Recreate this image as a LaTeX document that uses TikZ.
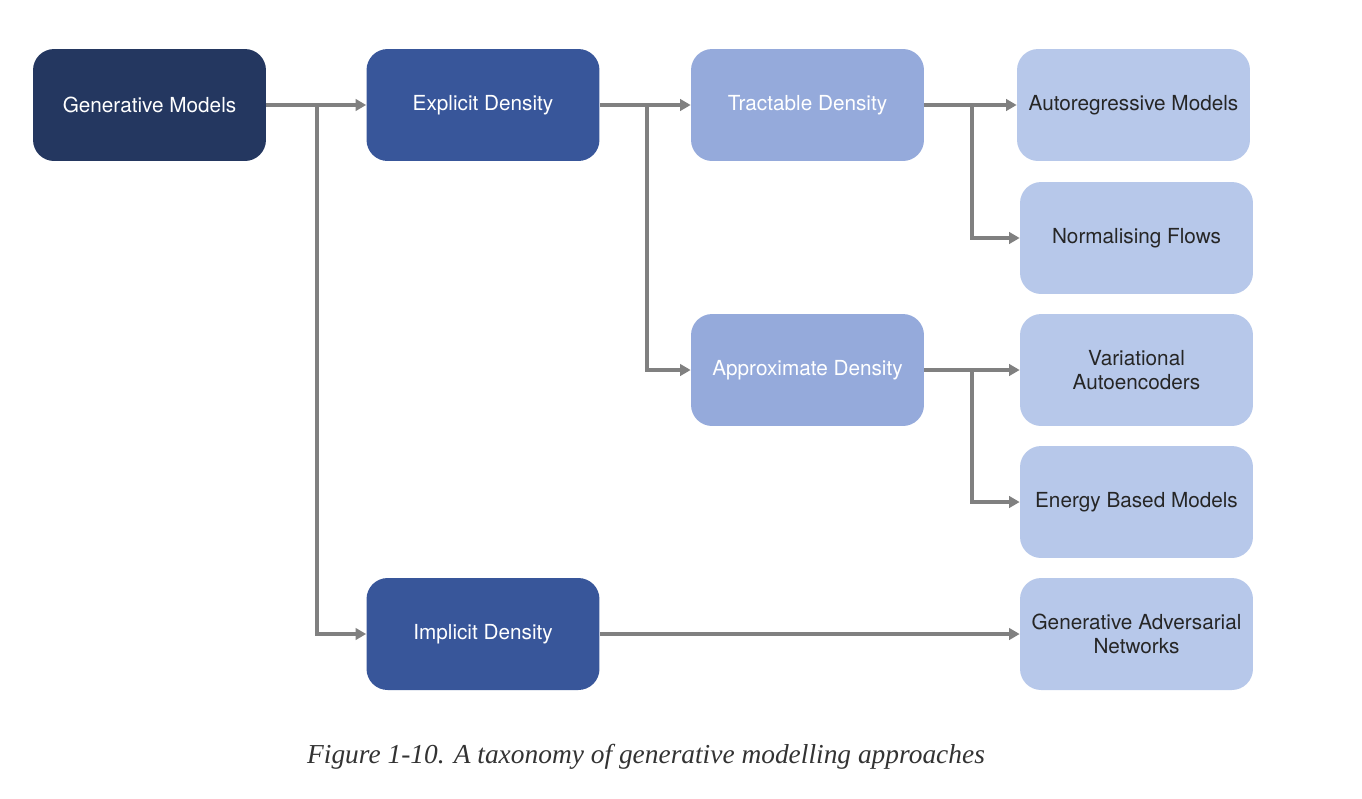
\documentclass[tikz,border=0pt]{standalone}
\usepackage{fontspec}
\setmainfont{Liberation Serif}
\setsansfont{TeX Gyre Heros}
\usepackage{xcolor}
\usetikzlibrary{arrows.meta, calc}

\definecolor{navy}{HTML}{243760}
\definecolor{royal}{HTML}{38569A}
\definecolor{periwinkle}{HTML}{95AADB}
\definecolor{paleblue}{HTML}{B7C8EA}
\definecolor{linegray}{HTML}{808080}

\tikzset{
    box/.style={rounded corners=12pt, minimum width=4.66cm, minimum height=2.24cm,
        align=center, font=\sffamily\fontsize{11.8}{14}\selectfont, inner sep=0pt},
    rootbox/.style={box, fill=navy, text=white},
    midbox/.style={box, fill=royal, text=white},
    subbox/.style={box, fill=periwinkle, text=white},
    leafbox/.style={box, fill=paleblue, text=black!85},
    conn/.style={draw=linegray, line width=1.8pt, -{Triangle[length=6pt,width=6.5pt]}}
}

\begin{document}
\begin{tikzpicture}[x=0.02cm, y=-0.02cm]
    \useasboundingbox (0,0) rectangle (1362,798);

    \node[rootbox] (gm) at (149.5,105) {Generative Models};
    \node[midbox] (ed) at (483,105) {Explicit Density};
    \node[midbox] (id) at (483,634) {Implicit Density};
    \node[subbox] (td) at (807.5,105) {Tractable Density};
    \node[subbox] (ad) at (807.5,370) {Approximate Density};
    \node[leafbox] (ar) at (1133.5,105) {Autoregressive Models};
    \node[leafbox] (nf) at (1136.5,238) {Normalising Flows};
    \node[leafbox] (vae) at (1136.5,370) {Variational\\Autoencoders};
    \node[leafbox] (ebm) at (1136.5,502) {Energy Based Models};
    \node[leafbox] (gan) at (1136.5,634) {Generative Adversarial\\Networks};

    \coordinate (b1) at (317,105);
    \coordinate (b2) at (647,105);
    \coordinate (b3) at (972,105);
    \coordinate (b4) at (972,370);

    \draw[conn] (gm.east) -- (ed.west);
    \draw[conn] (b1) |- (id.west);
    \draw[conn] (ed.east) -- (td.west);
    \draw[conn] (b2) |- (ad.west);
    \draw[conn] (td.east) -- (ar.west);
    \draw[conn] (b3) |- (nf.west);
    \draw[conn] (ad.east) -- (vae.west);
    \draw[conn] (b4) |- (ebm.west);
    \draw[conn] (id.east) -- (gan.west);

    \node[font=\itshape\fontsize{15.6}{18}\selectfont, text=black!80] (cap) at (646,757)
        {Figure 1-10. A taxonomy of generative modelling approaches};
\end{tikzpicture}
\end{document}
